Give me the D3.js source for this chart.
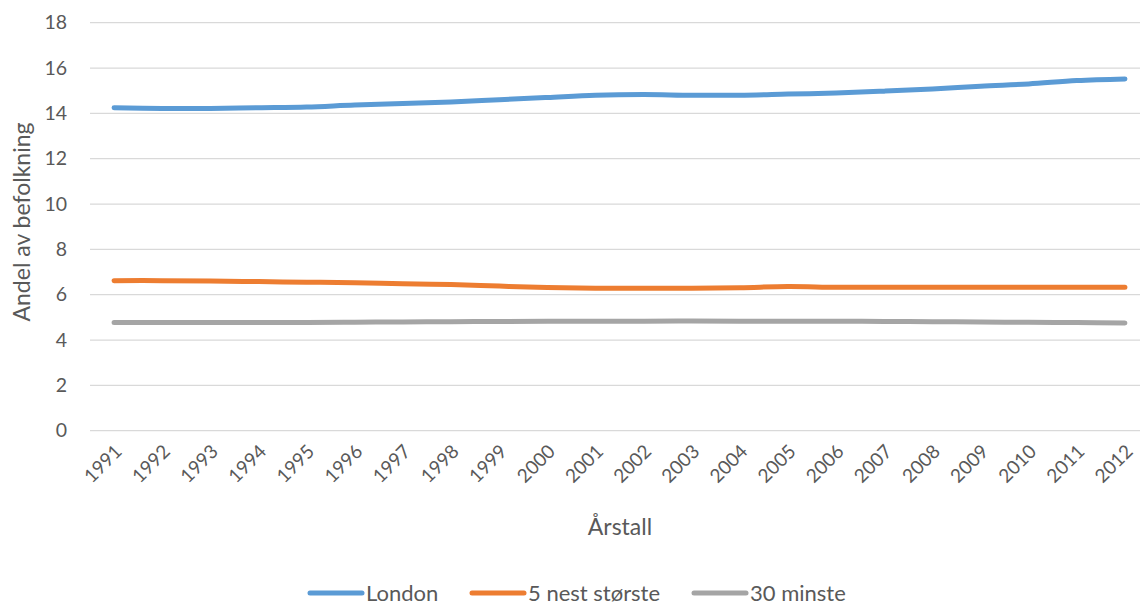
<!DOCTYPE html>
<html><head><meta charset="utf-8">
<script src="https://cdn.jsdelivr.net/npm/d3@7"></script>
<style>
html,body{margin:0;padding:0;background:#fff;}
svg{display:block;}
text{font-family:Lato,"Open Sans",sans-serif;fill:#595959;}
</style></head>
<body>
<svg id="chart" width="1140" height="607"></svg>
<script>
const years = ["1991","1992","1993","1994","1995","1996","1997","1998","1999","2000","2001","2002","2003","2004","2005","2006","2007","2008","2009","2010","2011","2012"];
const london = [14.25,14.22,14.22,14.25,14.28,14.37,14.43,14.50,14.60,14.70,14.80,14.83,14.80,14.80,14.85,14.90,14.98,15.07,15.20,15.30,15.45,15.52];
const nest5 = [6.62,6.62,6.60,6.58,6.55,6.53,6.48,6.45,6.38,6.32,6.29,6.28,6.29,6.31,6.36,6.33,6.33,6.33,6.33,6.33,6.33,6.33];
const minste30 = [4.77,4.77,4.77,4.77,4.77,4.79,4.80,4.81,4.82,4.83,4.83,4.83,4.84,4.83,4.83,4.83,4.82,4.81,4.80,4.78,4.77,4.75];
const yTicks = [0,2,4,6,8,10,12,14,16,18];
const seriesNames = ["London","5 nest største","30 minste"];
const seriesColors = ["#5B9BD5","#ED7D31","#A5A5A5"];
const yTitle = "Andel av befolkning";
const xTitle = "Årstall";

const series = [london, nest5, minste30];
const svg = d3.select("#chart");
const L = 90, R = 1149, T = 22.7, B = 430.7;

const x = d3.scaleBand().domain(years).range([L, R]);
const y = d3.scaleLinear().domain([0,18]).range([B, T]);

// gridlines
svg.append("g").selectAll("line").data(yTicks).join("line")
  .attr("x1", L).attr("x2", R)
  .attr("y1", d => y(d)).attr("y2", d => y(d))
  .attr("stroke", "#D9D9D9").attr("stroke-width", 1.3);

// y axis labels
const yAxis = d3.axisLeft(y).tickValues(yTicks).tickSize(0).tickPadding(0);
const gy = svg.append("g").attr("transform", `translate(67,0)`).call(yAxis);
gy.select(".domain").remove();
gy.selectAll("text").attr("font-size", 19.5).attr("fill", "#595959")
  .style("font-family", "Lato, 'Open Sans', sans-serif");

// x axis labels
const xAxis = d3.axisBottom(x).tickSize(0).tickPadding(0);
const gx = svg.append("g").attr("transform", `translate(0,${B})`).call(xAxis);
gx.select(".domain").remove();
gx.selectAll("text")
  .attr("font-size", 19).attr("fill", "#595959")
  .style("font-family", "Lato, 'Open Sans', sans-serif")
  .attr("text-anchor", "end")
  .attr("dy", null).attr("y", 0)
  .attr("transform", "translate(9,22) rotate(-45)");

// lines
const line = d3.line()
  .x((d,i) => x(years[i]) + x.bandwidth()/2)
  .y(d => y(d))
  .curve(d3.curveCatmullRom.alpha(0.5));

svg.append("g").selectAll("path").data(series).join("path")
  .attr("d", d => line(d))
  .attr("fill", "none")
  .attr("stroke", (d,i) => seriesColors[i])
  .attr("stroke-width", 5)
  .attr("stroke-linecap", "round")
  .attr("stroke-linejoin", "round");

// axis titles
svg.append("text").attr("x", 620).attr("y", 535)
  .attr("text-anchor", "middle").attr("font-size", 23).text(xTitle);
svg.append("text").attr("transform", "translate(30,222) rotate(-90)")
  .attr("text-anchor", "middle").attr("font-size", 23).text(yTitle);

// legend
const legX = [308, 470, 692];
const lg = svg.append("g").selectAll("g").data(seriesNames).join("g")
  .attr("transform", (d,i) => `translate(${legX[i]},593)`);
lg.append("line").attr("x1", 2).attr("x2", 54).attr("y1", 0).attr("y2", 0)
  .attr("stroke", (d,i) => seriesColors[i]).attr("stroke-width", 5)
  .attr("stroke-linecap", "round");
lg.append("text").attr("x", 58).attr("y", 0).attr("dy", "0.35em")
  .attr("font-size", 22).text(d => d);
</script>
</body></html>
